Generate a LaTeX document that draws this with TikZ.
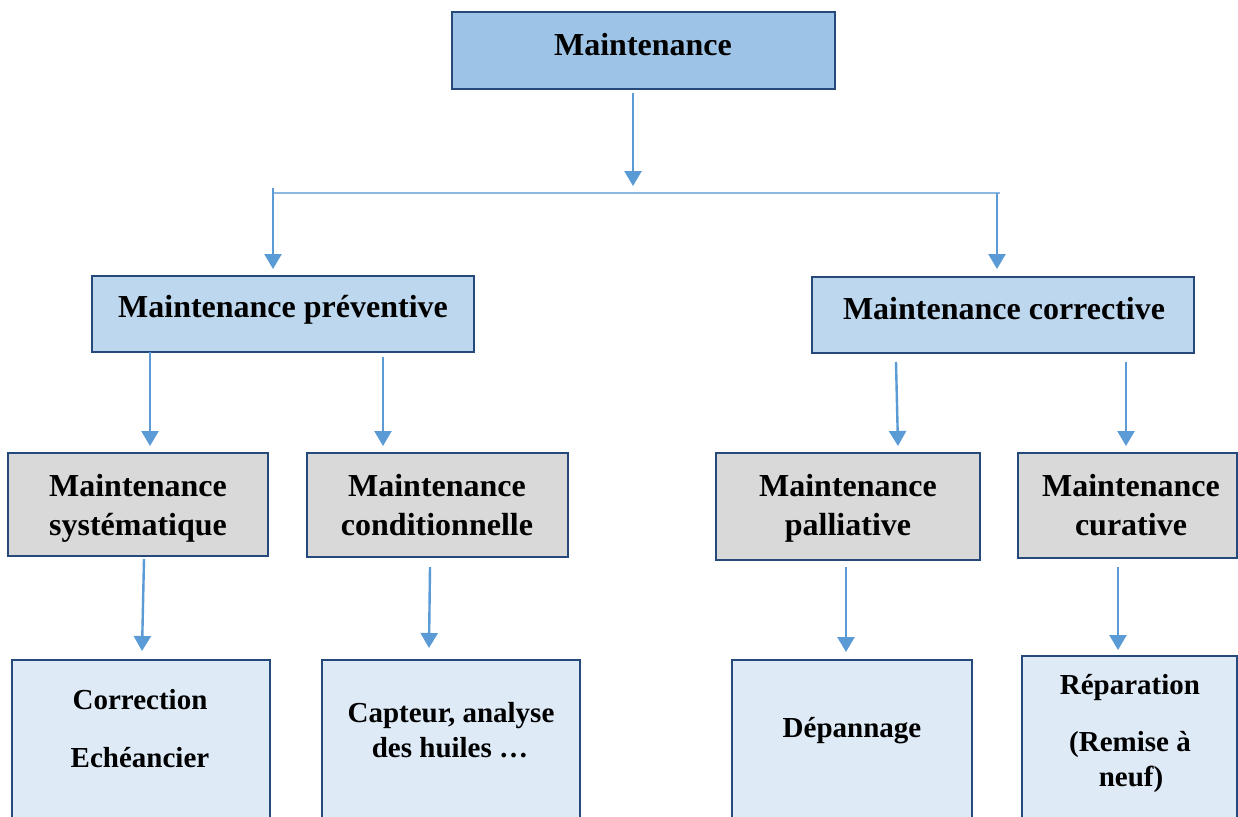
\documentclass[tikz,border=0pt]{standalone}
\usepackage{fontspec}
\setmainfont{Liberation Serif}
\usetikzlibrary{arrows.meta}
\definecolor{bord}{HTML}{24497A}
\definecolor{topfill}{HTML}{9DC3E6}
\definecolor{midfill}{HTML}{BDD7EE}
\definecolor{grayfill}{HTML}{D9D9D9}
\definecolor{lowfill}{HTML}{DEEBF7}
\definecolor{arrcol}{HTML}{5B9BD5}
\definecolor{linecol}{HTML}{8DB8E2}
\begin{document}
\begin{tikzpicture}[x=0.5pt,y=-0.5pt,
  box/.style={draw=bord,line width=1.4pt,inner sep=0pt,outer sep=0pt},
  big/.style={font=\fontsize{16pt}{20pt}\selectfont\bfseries,anchor=base,inner sep=0pt},
  small/.style={font=\fontsize{14.5pt}{17pt}\selectfont\bfseries,anchor=base,inner sep=0pt},
  arr/.style={draw=arrcol,line width=1.2pt,-{Triangle[width=8.5pt,length=7.5pt]}},
  branch/.style={draw=linecol,line width=0.8pt}]
\clip (0,0) rectangle (1238,816);
\fill[white] (0,0) rectangle (1238,816);
% boxes
\node[box,fill=topfill,minimum width=383*0.5pt,minimum height=77*0.5pt] (M) at (643.5,50.5) {};
\node[box,fill=midfill,minimum width=382*0.5pt,minimum height=76*0.5pt] (P) at (283,314) {};
\node[box,fill=midfill,minimum width=382*0.5pt,minimum height=76*0.5pt] (C) at (1003,315) {};
\node[box,fill=grayfill,minimum width=260*0.5pt,minimum height=103*0.5pt] (S) at (138,504.5) {};
\node[box,fill=grayfill,minimum width=261*0.5pt,minimum height=104*0.5pt] (K) at (437.5,505) {};
\node[box,fill=grayfill,minimum width=264*0.5pt,minimum height=107*0.5pt] (Pa) at (848,506.5) {};
\node[box,fill=grayfill,minimum width=219*0.5pt,minimum height=105*0.5pt] (Cu) at (1127.5,505.5) {};
\node[box,fill=lowfill,minimum width=258*0.5pt,minimum height=220*0.5pt] (B1) at (141,770) {};
\node[box,fill=lowfill,minimum width=258*0.5pt,minimum height=220*0.5pt] (B2) at (451,770) {};
\node[box,fill=lowfill,minimum width=240*0.5pt,minimum height=220*0.5pt] (B3) at (852,770) {};
\node[box,fill=lowfill,minimum width=215*0.5pt,minimum height=224*0.5pt] (B4) at (1129.5,768) {};
% texts
\node[big] (tM) at (643,55) {Maintenance};
\node[big] (tP) at (283,317) {Maintenance préventive};
\node[big] (tC) at (1004,319) {Maintenance corrective};
\node[big] (tS1) at (138,496) {Maintenance};
\node[big] (tS2) at (138,535) {systématique};
\node[big] (tK1) at (437,496) {Maintenance};
\node[big] (tK2) at (437,535) {conditionnelle};
\node[big] (tPa1) at (848,496) {Maintenance};
\node[big] (tPa2) at (848,535) {palliative};
\node[big] (tCu1) at (1131,496) {Maintenance};
\node[big] (tCu2) at (1131,535) {curative};
\node[small] (tB1a) at (140,709) {Correction};
\node[small] (tB1b) at (140,767) {Echéancier};
\node[small] (tB2a) at (451,722) {Capteur, analyse};
\node[small] (tB2b) at (450,757) {des huiles …};
\node[small] (tB3) at (852,737) {Dépannage};
\node[small] (tB4a) at (1130,694) {Réparation};
\node[small] (tB4b) at (1130,751) {(Remise à};
\node[small] (tB4c) at (1131,786) {neuf)};
% connector end points
\coordinate (m0) at (633,93);   \coordinate (m1) at (633,186);
\coordinate (hl) at (273,193);  \coordinate (hr) at (1000,193);
\coordinate (l0) at (273,188);  \coordinate (l1) at (273,269);
\coordinate (r0) at (997,193);  \coordinate (r1) at (997,269);
\coordinate (p1) at (150,352);  \coordinate (p2) at (150,446);
\coordinate (p3) at (383,357);  \coordinate (p4) at (383,446);
\coordinate (c1) at (896,362);  \coordinate (c2) at (898,446);
\coordinate (c3) at (1126,362); \coordinate (c4) at (1126,446);
\coordinate (s1) at (144,559);  \coordinate (s2) at (142,651);
\coordinate (k1) at (430,567);  \coordinate (k2) at (429,648);
\coordinate (a1) at (846,567);  \coordinate (a2) at (846,652);
\coordinate (u1) at (1118,567); \coordinate (u2) at (1118,650);
% connectors
\draw[arr] (m0) -- (m1);
\draw[branch] (hl) -- (hr);
\draw[arr] (l0) -- (l1);
\draw[arr] (r0) -- (r1);
\draw[arr] (p1) -- (p2);
\draw[arr] (p3) -- (p4);
\draw[arr] (c1) -- (c2);
\draw[arr] (c3) -- (c4);
\draw[arr] (s1) -- (s2);
\draw[arr] (k1) -- (k2);
\draw[arr] (a1) -- (a2);
\draw[arr] (u1) -- (u2);
\end{tikzpicture}
\end{document}
